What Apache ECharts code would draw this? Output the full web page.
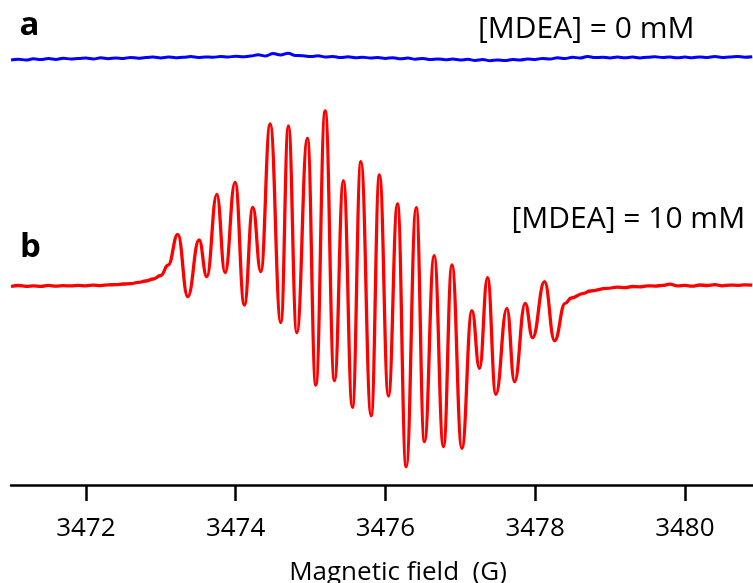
<!DOCTYPE html>
<html><head><meta charset="utf-8">
<script src="https://cdn.jsdelivr.net/npm/echarts@6/dist/echarts.min.js"></script>
<style>html,body{margin:0;padding:0;background:#fff}#c{width:753px;height:583px}</style>
</head><body><div id="c"></div><script>
// Spectrum a: [MDEA] = 0 mM (arbitrary intensity units, vertically offset)
const fieldA = [
3471.0,3471.1,3471.2,3471.3,3471.4,3471.5,3471.6,3471.7,3471.8,3471.9,
3472.0,3472.1,3472.2,3472.3,3472.4,3472.5,3472.6,3472.7,3472.8,3472.9,
3473.0,3473.1,3473.2,3473.3,3473.4,3473.5,3473.6,3473.7,3473.8,3473.9,
3474.0,3474.1,3474.2,3474.3,3474.4,3474.5,3474.6,3474.7,3474.8,3474.9,
3475.0,3475.1,3475.2,3475.3,3475.4,3475.5,3475.6,3475.7,3475.8,3475.9,
3476.0,3476.1,3476.2,3476.3,3476.4,3476.5,3476.6,3476.7,3476.8,3476.9,
3477.0,3477.1,3477.2,3477.3,3477.4,3477.5,3477.6,3477.7,3477.8,3477.9,
3478.0,3478.1,3478.2,3478.3,3478.4,3478.5,3478.6,3478.7,3478.8,3478.9,
3479.0,3479.1,3479.2,3479.3,3479.4,3479.5,3479.6,3479.7,3479.8,3479.9,
3480.0,3480.1,3480.2,3480.3,3480.4,3480.5,3480.6,3480.7,3480.8,3480.9];
const intensityA = [
226.0,226.8,225.9,227.2,226.4,227.5,226.6,227.8,226.9,227.4,
228.0,227.1,228.2,227.3,228.1,227.6,228.6,227.8,228.4,228.9,
228.1,229.0,228.3,228.8,229.4,228.5,229.1,228.7,229.6,228.9,
229.8,229.2,230.0,231.2,230.1,232.4,231.0,232.8,230.6,230.2,
229.5,230.2,229.0,229.6,228.5,229.2,228.3,228.8,227.9,228.4,
227.6,228.3,227.2,227.9,226.8,227.6,226.5,227.1,226.3,226.9,
226.0,226.7,225.6,226.4,225.3,226.1,225.5,226.6,226.0,227.0,
226.6,227.6,227.0,228.2,227.5,228.8,227.9,229.6,228.4,228.8,
228.0,228.9,228.2,229.0,228.1,228.7,229.3,228.4,229.0,228.2,
228.9,228.3,229.1,228.5,229.4,228.6,229.0,229.5,228.8,229.3];

// Spectrum b: [MDEA] = 10 mM
const fieldB = [
3471.0,3471.1,3471.2,3471.3,3471.4,3471.5,3471.6,3471.7,3471.8,3471.9,
3472.0,3472.1,3472.2,3472.3,3472.4,3472.5,3472.6,3472.7,3472.8,3472.9,
3473.0,3473.1,3473.227,3473.361,3473.512,3473.615,3473.749,3473.859,3473.993,
3474.117,3474.230,3474.336,3474.461,3474.604,3474.705,3474.817,3474.959,
3475.071,3475.196,3475.320,3475.440,3475.560,3475.673,3475.810,3475.921,
3476.041,3476.162,3476.278,3476.412,3476.522,3476.652,3476.776,3476.889,
3477.022,3477.156,3477.257,3477.364,3477.476,3477.623,3477.725,3477.868,3477.966,
3478.126,3478.260,3478.402,3478.483,3478.647,3478.737,3478.96,
3479.1,3479.2,3479.3,3479.4,3479.5,3479.6,3479.7,3479.8,3479.9,
3480.0,3480.1,3480.2,3480.3,3480.4,3480.5,3480.6,3480.7,3480.8,3480.9];
const intensityB = [
-0.5,0.5,-0.3,0.2,-0.4,0.6,-0.2,0.3,0.1,0.6,
0.2,0.9,0.4,1.2,1.3,2.0,2.4,3.6,5.0,7.0,
10.5,21.0,51.7,-10.7,46,9.3,91.7,13.3,103.7,
-19,78.7,14.3,162,-36.7,160,-46.7,147.7,
-99,175,-94.7,105.3,-121.3,124.3,-129.7,111,
-110,82,-180.7,78.3,-155.7,30.3,-160.7,21,
-162.3,-24.7,-82.3,8.3,-108.3,-22.3,-95.7,-17.3,-51.7,
4.3,-54.7,-17.3,-12,-7.3,-5,-2.3,
-1.2,-1.6,-0.5,-0.8,0.2,-0.1,0.6,1.8,0.2,
0.6,-0.2,1.0,0.5,1.3,0.2,0.9,0.7,1.2,0.8];

const tickValues = [3472, 3474, 3476, 3478, 3480];
const panelLabels = ['a', 'b'];
const concLabels = ['[MDEA] = 0 mM', '[MDEA] = 10 mM'];
const axisTitle = 'Magnetic field  (G)';

const pairs = (xs, ys) => xs.map((x, i) => [x, ys[i]]);
const FONT = '"Open Sans", sans-serif';

const chart = echarts.init(document.getElementById('c'), null, {renderer: 'canvas'});
chart.setOption({
  animation: false,
  backgroundColor: '#fff',
  grid: {left: 11, right: 0, top: 0, bottom: 98, containLabel: false, outerBoundsMode: 'none'},
  xAxis: {
    type: 'value', min: 3471, max: 3480.91,
    axisLine: {onZero: false, lineStyle: {color: '#000', width: 2.5}},
    axisTick: {customValues: tickValues, length: 16, lineStyle: {color: '#000', width: 2.5}},
    axisLabel: {customValues: tickValues, margin: 31, color: '#000', fontFamily: FONT, fontSize: 26,
                formatter: v => String(v)},
    splitLine: {show: false},
    name: axisTitle, nameLocation: 'middle', nameGap: 75,
    nameTextStyle: {fontFamily: FONT, fontSize: 26, color: '#000', padding: [0, 0, 0, 32]}
  },
  yAxis: {type: 'value', min: -199, max: 286, show: false},
  series: [
    {type: 'line', data: pairs(fieldA, intensityA), showSymbol: false, smooth: 0.4, smoothMonotone: 'x',
     lineStyle: {color: '#0000ff', width: 3}, z: 2},
    {type: 'line', data: pairs(fieldB, intensityB), showSymbol: false, smooth: 0.45, smoothMonotone: 'x',
     lineStyle: {color: '#ff0000', width: 3.3}, z: 3}
  ],
  graphic: [
    {type: 'text', x: 19.5, y: 26, style: {text: panelLabels[0], font: 'bold 33px ' + FONT, fill: '#000', verticalAlign: 'middle'}},
    {type: 'text', x: 20, y: 247.5, style: {text: panelLabels[1], font: 'bold 33px ' + FONT, fill: '#000', verticalAlign: 'middle'}},
    {type: 'text', x: 478, y: 29, style: {text: concLabels[0], font: '30px ' + FONT, fill: '#000', verticalAlign: 'middle'}},
    {type: 'text', x: 511.5, y: 219, style: {text: concLabels[1], font: '30px ' + FONT, fill: '#000', verticalAlign: 'middle'}}
  ]
});
</script></body></html>
